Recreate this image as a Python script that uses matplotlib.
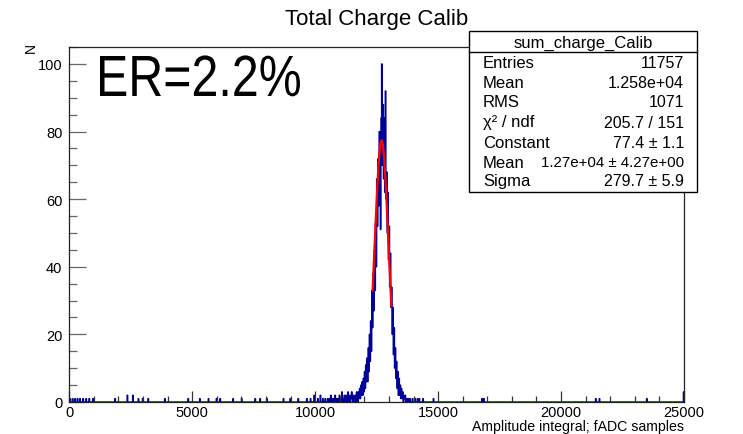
import numpy as np
import matplotlib
matplotlib.use("Agg")
import matplotlib.pyplot as plt
from matplotlib.patches import Rectangle, PathPatch
from matplotlib.ticker import MultipleLocator
from matplotlib.textpath import TextPath
from matplotlib.font_manager import FontProperties
from matplotlib.transforms import Affine2D

plt.rcParams['font.family'] = ['Liberation Sans', 'DejaVu Sans']

# ---------------- data ----------------
bin_width = 25
x_min, x_max = 0, 25000

# dense part of the histogram, consecutive bins starting at peak_start
peak_start = 10500
peak_counts = [
    1, 0, 0, 1, 0, 2, 0, 1, 0, 0, 1, 0, 2, 0, 1, 0, 1, 0, 0, 2,
    0, 1, 0, 3, 0, 1, 0, 2, 1, 0, 2, 0, 1, 3, 0, 1, 2, 0, 1, 3,
    1, 0, 2, 0, 1, 2, 0, 3,
    2, 0, 3, 1, 4, 1, 5, 2,
    6, 2, 7, 3, 9, 4, 11, 6,
    13, 6, 16, 9, 20, 12, 24, 15,
    33, 22, 38, 27, 45, 33, 53, 40,
    66, 52, 72, 58, 80, 64, 51, 84,
    100, 70, 88, 66, 84, 62, 92, 60,
    68, 50, 62, 42, 52, 34, 44, 28,
    34, 20, 28, 14, 22, 10, 16, 7,
    12, 4, 9, 2, 7, 2, 5, 1,
    4, 1, 3, 0, 2, 1, 2, 0,
    1, 0, 1, 0, 1, 0, 1, 0,
]

# isolated bins outside the dense part
sparse_x = [30, 130, 230, 330, 430, 560, 690, 820, 950,
            1859, 2374, 2577, 2807, 2984, 3214, 3892, 4841, 5316, 5655,
            5994, 6129, 6670, 7011, 7553, 7756, 8028, 8703, 8976, 9315,
            9655, 9800, 9950, 10100, 10200, 10300, 10420,
            13950, 14050, 14150, 14230, 14380, 14800, 16780, 16870,
            21400, 21550, 23480, 24980]
sparse_n = [1, 1, 1, 1, 1, 1, 1, 1, 1,
            1, 2, 2, 1, 1, 1, 1, 1, 1, 1,
            1, 1, 1, 1, 1, 1, 1, 1, 1, 1,
            1, 1, 2, 1, 2, 1, 1,
            1, 1, 1, 1, 1, 1, 1, 1,
            1, 1, 1, 3]

# Gaussian fit parameters and fit range
fit_constant = 77.4
fit_mean = 1.27e4
fit_sigma = 279.7
fit_range = [12335, 13096]

title = "Total Charge Calib"
annotation = "ER=2.2%"
stat_name = "sum_charge_Calib"
stat_labels = ["Entries", "Mean", "RMS", "\u03c7\u00b2 / ndf", "Constant", "Mean", "Sigma"]
stat_values = ["11757", "1.258e+04", "1071", "205.7 / 151", "77.4 \u00b1 1.1",
               "1.27e+04 \u00b1 4.27e+00", "279.7 \u00b1 5.9"]
x_ticks = [0, 5000, 10000, 15000, 20000, 25000]
y_ticks = [0, 20, 40, 60, 80, 100]

# ---------------- build histogram ----------------
edges = np.arange(x_min, x_max + bin_width, bin_width)
counts = np.zeros(len(edges) - 1)
for xv, n in zip(sparse_x, sparse_n):
    counts[int(xv // bin_width)] += n
i0 = peak_start // bin_width
counts[i0:i0 + len(peak_counts)] = peak_counts

W, H = 743, 435
fig = plt.figure(figsize=(W / 100, H / 100), dpi=100)
L, R, B, T = 69.3, 684, 403, 48
ax = fig.add_axes([L / W, 1 - B / H, (R - L) / W, (B - T) / H])

ax.stairs(counts, edges, color='#000099', lw=1.0)

xf = np.linspace(fit_range[0], fit_range[1], 200)
yf = fit_constant * np.exp(-0.5 * ((xf - fit_mean) / fit_sigma) ** 2)
ax.plot(xf, yf, color='#ff0000', lw=1.6)

ax.set_xlim(x_min, x_max)
ax.set_ylim(0, 105)
ax.set_xticks(x_ticks)
ax.set_xticklabels([str(v) for v in x_ticks])
ax.set_yticks(y_ticks)
ax.set_yticklabels([str(v) for v in y_ticks])
ax.xaxis.set_minor_locator(MultipleLocator(1000))
ax.yaxis.set_minor_locator(MultipleLocator(5))
ax.xaxis.set_tick_params(which='major', direction='in', length=8, width=0.9, color='#333333',
                         labelsize=10.5, pad=2)
ax.xaxis.set_tick_params(which='minor', direction='in', length=4.3, width=0.9, color='#333333')
ax.yaxis.set_tick_params(which='major', direction='in', length=12, width=0.9, color='#666666',
                         labelsize=10.5, pad=5)
ax.yaxis.set_tick_params(which='minor', direction='in', length=6, width=0.9, color='#666666')
for s in ax.spines.values():
    s.set_linewidth(0.9)
    s.set_color('#222222')

fig.text(377 / W, 1 - 19 / H, title, ha='center', va='center', fontsize=16)
fig.text(684 / W, 1 - 427 / H, "Amplitude integral; fADC samples", ha='right', va='center',
         fontsize=10.2)
fig.text(31 / W, 1 - 48 / H, "N", ha='center', va='center', fontsize=10, rotation=90)

# large annotation, drawn as a text outline scaled to the box it fills
fp = FontProperties(family='Liberation Sans')
tp = TextPath((0, 0), annotation, size=100, prop=fp)
ext = tp.get_extents()
cap = TextPath((0, 0), "E", size=100, prop=fp).get_extents().height
sx = 200.0 / ext.width
sy = 40.0 / cap
tr = Affine2D().translate(-ext.x0, 0).scale(sx, sy).translate(100, H - 97)
fig.add_artist(PathPatch(tp, transform=tr, facecolor='black', edgecolor='none', zorder=4))

# stats box
bx0, bx1, by0, by1 = 469, 697, 32, 193
fig.add_artist(Rectangle((bx0 / W, 1 - by1 / H), (bx1 - bx0) / W, (by1 - by0) / H,
                         transform=fig.transFigure, facecolor='white', edgecolor='black',
                         lw=1.0, zorder=5))
fig.add_artist(plt.Line2D([bx0 / W, bx1 / W], [1 - 53 / H, 1 - 53 / H],
                          transform=fig.transFigure, color='black', lw=1.0, zorder=6))
fig.text((bx0 + bx1) / 2 / W, 1 - 43 / H, stat_name, ha='center', va='center',
         fontsize=12, zorder=7)
row_y = [63, 83, 103, 123, 143, 163, 182]
val_sizes = [11.5, 11.5, 11.5, 11.5, 11.5, 10.8, 11.5]
for lab, val, yy, vs in zip(stat_labels, stat_values, row_y, val_sizes):
    fig.text(483 / W, 1 - yy / H, lab, ha='left', va='center', fontsize=12, zorder=7)
    fig.text(684 / W, 1 - yy / H, val, ha='right', va='center', fontsize=vs, zorder=7)

fig.savefig("out.png", dpi=100)
